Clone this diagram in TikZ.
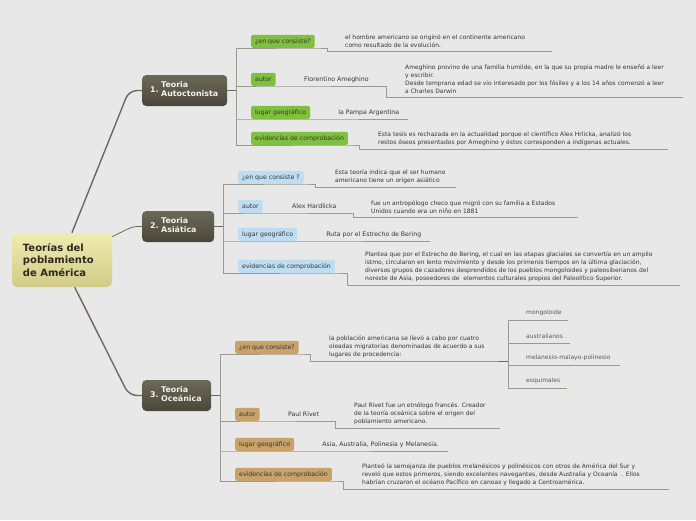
\documentclass[tikz,border=0pt]{standalone}
\usepackage{fontspec}
\setmainfont{DejaVu Sans}
\usetikzlibrary{positioning}

\definecolor{bg}{HTML}{E8E8E8}
\definecolor{rootA}{HTML}{F0ECB0}
\definecolor{rootB}{HTML}{D2CB88}
\definecolor{rootT}{HTML}{2E2A1E}
\definecolor{topicA}{HTML}{6C6958}
\definecolor{topicB}{HTML}{4A473A}
\definecolor{topicT}{HTML}{F2F2EE}
\definecolor{grnL}{HTML}{7FC03F}
\definecolor{bluL}{HTML}{BEDCF2}
\definecolor{tanL}{HTML}{C8A269}
\definecolor{ulcol}{HTML}{9B9B8F}
\definecolor{branchcol}{HTML}{6D6A59}
\definecolor{txt}{HTML}{363636}
\definecolor{leafT}{HTML}{5A5A5A}

\begin{document}
\begin{tikzpicture}[x=1pt, y=-1pt,
  rootbox/.style={
    rounded corners=5pt, top color=rootA, bottom color=rootB,
    text=rootT, font=\fontsize{10}{12.8}\selectfont\bfseries,
    align=left, inner xsep=11pt, inner ysep=0pt, minimum height=54pt
  },
  topic/.style={
    rounded corners=4pt, top color=topicA, bottom color=topicB,
    text=topicT, font=\fontsize{7.9}{9}\selectfont\bfseries,
    align=left, anchor=west, inner xsep=8pt, inner ysep=0pt, minimum height=31pt
  },
  lbl/.style={
    rounded corners=2pt, anchor=south west, text=txt,
    font=\fontsize{6.2}{7}\selectfont,
    inner xsep=4pt, inner ysep=0pt, minimum height=13pt
  },
  grnbox/.style={lbl, fill=grnL},
  blubox/.style={lbl, fill=bluL},
  tanbox/.style={lbl, fill=tanL},
  who/.style={text=txt, font=\fontsize{6.2}{7}\selectfont, inner sep=0pt},
  desc/.style={anchor=south west, align=left, text=txt,
    font=\fontsize{6}{8}\selectfont, inner sep=0pt},
  leaf/.style={desc, text=leafT},
  uline/.style={draw=ulcol, line width=0.7pt},
  branch/.style={draw=branchcol, line width=1.4pt, rounded corners=8pt},
]

% canvas
\fill[bg] (0,0) rectangle (696,520);
\useasboundingbox (0,0) rectangle (696,520);

% central idea and the three theories
\node[rootbox, text width=78pt] (root) at (62,260) {Teorías del\\poblamiento\\de América};

\node[topic, text width=69pt] (t1) at (142,90.5)
  {1.\hspace{2.5pt}\begin{tabular}[c]{@{}l@{}}Teoria\\Autoctonista\end{tabular}};
\node[topic, text width=56pt] (t2) at (142,226.5)
  {2.\hspace{2.5pt}\begin{tabular}[c]{@{}l@{}}Teoria\\Asiática\end{tabular}};
\node[topic, text width=53pt] (t3) at (142,395.5)
  {3.\hspace{2.5pt}\begin{tabular}[c]{@{}l@{}}Teoria\\Oceánica\end{tabular}};

\draw[branch] (root.70) -- (129,90.5) -- (t1.west);
\draw[branch, line width=0.8pt, rounded corners=4pt] (root.25) -- (133,226.5) -- (t2.west);
\draw[branch] (root.-65) -- (129,395.5) -- (t3.west);

% ---- 1. Teoria Autoctonista
\coordinate (s1) at (236,90.5);
\draw[branch, line width=0.8pt] (t1.east) -- (s1);
\draw[uline] (236,48) -- (236,145);

\node[grnbox] (c1a) at (251,48) {¿en que consiste?};
\node[desc] (d1a) at (345,48) {el hombre americano se originó en el continente americano\\como resultado de la evolución.};
\draw[uline] (236,48) -- (c1a.south east) -- (327,48) -- (327,51) -- (552,51);

\node[grnbox] (c1b) at (251,86) {autor};
\node[who, right=28pt of c1b] (n1b) {Florentino Ameghino};
\node[desc] (d1b) at (405,94) {Ameghino provino de una familia humilde, en la que su propia madre le enseñó a leer\\y escribir.\\Desde temprana edad se vio interesado por los fósiles y a los 14 años comenzó a leer\\a Charles Darwin};
\draw[uline] (236,86) -- (c1b.south east) -- (386,86) -- (386,97) -- (683,97);

\node[grnbox] (c1c) at (251,119) {lugar geográfico};
\node[who, right=28pt of c1c] (n1c) {la Pampa Argentina};
\draw[uline] (236,119) -- (c1c.south east) -- (408,119);

\node[grnbox] (c1d) at (251,145) {evidencias de comprobación};
\node[desc] (d1d) at (378,146) {Esta tesis es rechazada en la actualidad porque el científico Alex Hrlicka, analizó los\\restos óseos presentados por Ameghino y éstos corresponden a indígenas actuales.};
\draw[uline] (236,145) -- (c1d.south east) -- (359,145) -- (359,149) -- (668,149);

% ---- 2. Teoria Asiática
\coordinate (s2) at (223,226.5);
\draw[branch, line width=0.8pt] (t2.east) -- (s2);
\draw[uline] (223,184) -- (223,273);

\node[blubox] (c2a) at (238,184) {¿en que consiste ?};
\node[desc] (d2a) at (335,184) {Esta teoría indica que el ser humano\\americano tiene un origen asiático};
\draw[uline] (223,184) -- (c2a.south east) -- (315,184) -- (315,187) -- (456,187);

\node[blubox] (c2b) at (238,213) {autor};
\node[who, right=29pt of c2b] (n2b) {Alex Hardlicka};
\node[desc] (d2b) at (371,214) {fue un antropólogo checo que migró con su familia a Estados\\Unidos cuando era un niño en 1881};
\draw[uline] (223,213) -- (c2b.south east) -- (353,213) -- (353,217) -- (578,217);

\node[blubox] (c2c) at (238,241) {lugar geográfico};
\node[who, right=29pt of c2c] (n2c) {Ruta por el Estrecho de Bering};
\draw[uline] (223,241) -- (c2c.south east) -- (430,241);

\node[blubox] (c2d) at (238,273) {evidencias de comprobación};
\node[desc] (d2d) at (365,282) {Plantea que por el Estrecho de Bering, el cual en las etapas glaciales se convertía en un amplio\\istmo, circularon en lento movimiento y desde los primeros tiempos en la última glaciación,\\diversos grupos de cazadores desprendidos de los pueblos mongoloides y paleosiberianos del\\noreste de Asia, poseedores de\ \ elementos culturales propios del Paleolítico Superior.};
\draw[uline] (223,273) -- (c2d.south east) -- (347,273) -- (347,285) -- (680,285);

% ---- 3. Teoria Oceánica
\coordinate (s3) at (220,395.5);
\draw[branch, line width=0.8pt] (t3.east) -- (s3);
\draw[uline] (220,354) -- (220,481);

\node[tanbox] (c3a) at (235,354) {¿en que consiste?};
\node[desc] (d3a) at (329,358) {la población americana se llevó a cabo por cuatro\\oleadas migratorias denominadas de acuerdo a sus\\lugares de procedencia:};
\draw[uline] (220,354) -- (c3a.south east) -- (310,354) -- (310,361) -- (498,361);
\draw[branch, line width=1pt] (498,361) -- (508,361);
\draw[uline] (508,320) -- (508,388);
\foreach \y/\w/\t in {320/568/mongoloide, 343/570/australianos,
                      365/620/melanesio-malayo-polinesio, 388/567/esquimales}{
  \node[leaf] (leaf\y) at (526,{\y-4}) {\t};
  \draw[uline] (508,\y) -- (\w,\y);
}

\node[tanbox] (c3b) at (235,421) {autor};
\node[who, right=28pt of c3b] (n3b) {Paul Rivet};
\node[desc] (d3b) at (354,425) {Paul Rivet fue un etnólogo francés. Creador\\de la teoría oceánica sobre el origen del\\poblamiento americano.};
\draw[uline] (220,421) -- (c3b.south east) -- (335,421) -- (335,428) -- (500,428);

\node[tanbox] (c3c) at (235,451) {lugar geográfico};
\node[who, right=28pt of c3c] (n3c) {Asia, Australia, Polinesia y Melanesia.};
\draw[uline] (220,451) -- (c3c.south east) -- (448,451);

\node[tanbox] (c3d) at (235,481) {evidencias de comprobación};
\node[desc] (d3d) at (362,486) {Planteó la semejanza de pueblos melanésicos y polinésicos con otros de América del Sur y\\reveló que estos primeros, siendo excelentes navegantes, desde Australia y Oceanía\ \ . Ellos\\habrían cruzaron el océano Pacífico en canoas y llegado a Centroamérica.};
\draw[uline] (220,481) -- (c3d.south east) -- (343,481) -- (343,489) -- (669,489);

\end{tikzpicture}
\end{document}
